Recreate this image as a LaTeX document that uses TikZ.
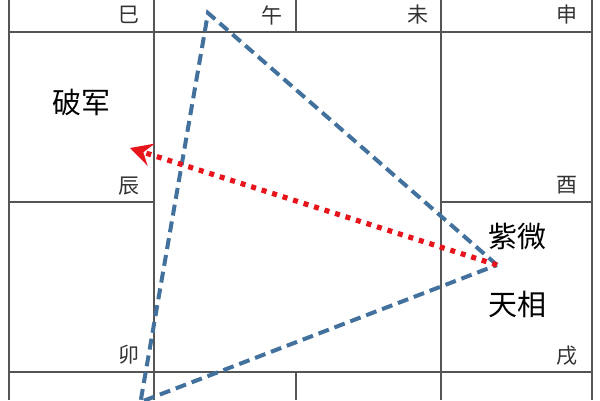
\documentclass[tikz,border=0pt]{standalone}
\usepackage{fontspec}
\newfontfamily\cjk{Noto Sans CJK SC}
\usetikzlibrary{arrows.meta}

\definecolor{gridgray}{HTML}{555555}
\definecolor{tribue}{HTML}{41719C}
\definecolor{arrowred}{HTML}{E8141C}

\begin{document}
\begin{tikzpicture}[x=1pt, y=-1pt,
    grid/.style={draw=gridgray, line width=1.6pt},
    gong/.style={font=\cjk\fontsize{21}{21}\selectfont, text=black!80, inner sep=0pt},
    xing/.style={font=\cjk\fontsize{29}{29}\selectfont, text=black, inner sep=0pt},
    sanfang/.style={draw=tribue, line width=4pt, dash pattern=on 11pt off 6pt},
    duichong/.style={draw=arrowred, line width=5.2pt, dash pattern=on 5pt off 6pt,
                     -{Stealth[length=22pt, width=23pt, inset=8pt]}}]
      \useasboundingbox (0, 0) rectangle (600, 400);
      \clip (0, 0) rectangle (600, 400);
    %  \draw[help lines] (0, 0) grid (600, 400);

      % palace grid
      \draw[grid] (9, 0) -- (9, 400);
      \draw[grid] (154, 0) -- (154, 400);
      \draw[grid] (441, 0) -- (441, 400);
      \draw[grid] (592, 0) -- (592, 400);
      \draw[grid] (296, 0) -- (296, 32);
      \draw[grid] (296, 372) -- (296, 400);
      \draw[grid] (9, 32) -- (592, 32);
      \draw[grid] (9, 372) -- (592, 372);
      \draw[grid] (9, 202) -- (154, 202);
      \draw[grid] (441, 202) -- (592, 202);

      % branch labels
      \node [gong] (si)   at (129, 15)  {巳};
      \node [gong] (wu)   at (272, 15)  {午};
      \node [gong] (wei)  at (418, 15)  {未};
      \node [gong] (shen) at (567, 15)  {申};
      \node [gong] (chen) at (129, 186) {辰};
      \node [gong] (you)  at (567, 185) {酉};
      \node [gong] (mao)  at (129, 355) {卯};
      \node [gong] (xu)   at (567, 356) {戌};

      % stars
      \node [xing] (pojun)    at (81, 102)  {破军};
      \node [xing] (ziwei)    at (517, 237) {紫微};
      \node [xing] (tianxiang) at (517, 304) {天相};

      % triangle
      \coordinate (apex)  at (208, 13);
      \coordinate (ming)  at (497, 265);
      \coordinate (foot)  at (140.5, 402);
      \draw[sanfang] (ming) -- (apex) -- (foot) -- cycle;

      % opposite palace
      \coordinate (dui) at (130, 148);
      \draw[duichong] (ming) -- (dui);
    \end{tikzpicture}
\end{document}
